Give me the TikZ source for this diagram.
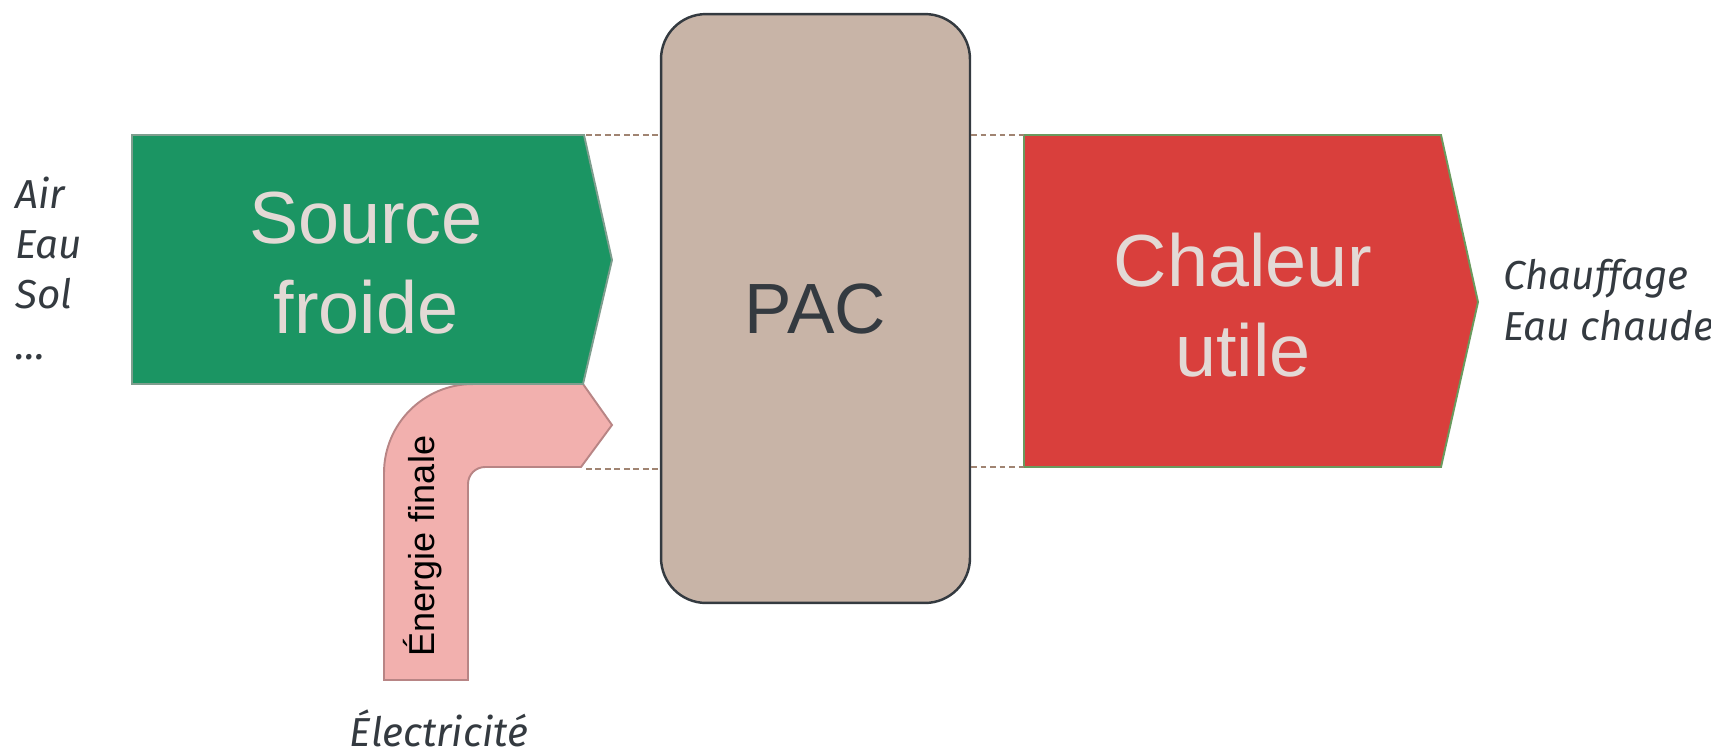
\documentclass[tikz,border=0pt]{standalone}
\usepackage{fontspec}
\setmainfont{Liberation Sans}
\newfontfamily\lblfont{Fira Sans}
\usetikzlibrary{positioning}

\definecolor{vertsrc}{HTML}{1B9563}
\definecolor{vertbord}{HTML}{7E9E8E}
\definecolor{rougechal}{HTML}{D93F3C}
\definecolor{rougebord}{HTML}{6A9A5E}
\definecolor{roseelec}{HTML}{F2B0AE}
\definecolor{rosebord}{HTML}{B88585}
\definecolor{pacfond}{HTML}{C8B4A7}
\definecolor{gris}{HTML}{343A40}
\definecolor{txtclair}{HTML}{E3D9D5}
\definecolor{tiret}{HTML}{A08472}

\begin{document}
\begin{tikzpicture}[
	x=0.02cm, y=-0.02cm,
	flux/.style={line width=1.1pt, line join=miter},
	bigtxt/.style={
	  align=center,
	  anchor=base,
	  text=txtclair,
	  font=\fontsize{42}{51}\selectfont
	  },
	pacbox/.style={
	  draw=gris,
	  fill=pacfond,
	  line width=1.4pt,
	  rounded corners=0.9cm,
	  minimum width=6.18cm,
	  minimum height=11.78cm,
	  text=gris,
	  font=\fontsize{40.5}{48}\selectfont
	  },
	lbl/.style={
	  align=left,
	  text=gris,
	  inner sep=0pt,
	  font=\lblfont\itshape\fontsize{23}{28.5}\selectfont
	  },
	pointille/.style={tiret, line width=0.8pt, dash pattern=on 3.2pt off 2.2pt}
	]
		\useasboundingbox (0,0) rectangle (1711,752);

		% energie finale (coude)
		\filldraw[flux, fill=roseelec, draw=rosebord]
			(384,680) -- (384,473) arc[start angle=180, end angle=90, radius=1.78cm]
			-- (583,384) -- (612,425) -- (581,467) -- (485,467)
			arc[start angle=90, end angle=180, radius=0.34cm] -- (468,680) -- cycle;

		% source froide
		\filldraw[flux, fill=vertsrc, draw=vertbord]
			(132,135) -- (584,135) -- (612,260) -- (583,384) -- (132,384) -- cycle;

		% chaleur utile
		\filldraw[flux, fill=rougechal, draw=rougebord]
			(1024,135) -- (1441,135) -- (1478,302) -- (1441,467) -- (1024,467) -- cycle;

		\coordinate (srcHaut) at (586,135);
		\coordinate (elecBas) at (586,469);
		\coordinate (chalHaut) at (1024,135);
		\coordinate (chalBas) at (1024,467);

		\node[pacbox] (pac) at (815.5,308.5) {PAC};

		\draw[pointille] (srcHaut) -- (srcHaut -| pac.west);
		\draw[pointille] (elecBas) -- (elecBas -| pac.west);
		\draw[pointille] (chalHaut -| pac.east) -- (chalHaut);
		\draw[pointille] (chalBas -| pac.east) -- (chalBas);

		\node[bigtxt] (srcTxt) at (366,333) {Source\\froide};
		\node[bigtxt] (chalTxt) at (1243,376) {Chaleur\\utile};
		\node[rotate=90, font=\fontsize{20.5}{24}\selectfont] (energie) at (423,546) {Énergie finale};

		\node[lbl, anchor=base west] (milieux) at (15,359) {Air\\Eau\\Sol\\…};
		\node[lbl, anchor=base west] (usages) at (1503,340) {Chauffage\\Eau chaude};
		\node[lbl, anchor=base] (elecTxt) at (439,746) {Électricité};
	\end{tikzpicture}
\end{document}
